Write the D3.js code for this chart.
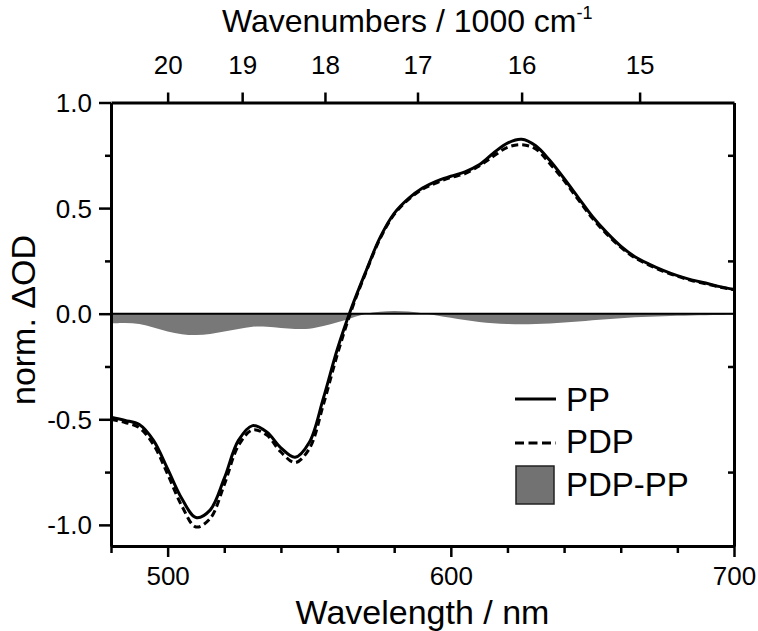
<!DOCTYPE html>
<html><head><meta charset="utf-8">
<script src="https://cdn.jsdelivr.net/npm/d3@7"></script>
<style>
body{margin:0;background:#fff}
text{font-family:"Liberation Sans",Arial,Helvetica,sans-serif;fill:#000}
</style>
</head><body>
<svg id="chart" width="758" height="631"></svg>
<script>
// ---- data ----
const wavelengths = [480,485,490,495,500,505,510,515,520,525,530,535,540,545,550,555,560,565,570,575,580,585,590,595,600,605,610,615,620,625,630,635,640,645,650,655,660,665,670,675,680,685,690,695,700];
const pp  = [-0.49,-0.505,-0.525,-0.60,-0.735,-0.875,-0.965,-0.93,-0.78,-0.60,-0.53,-0.56,-0.635,-0.68,-0.61,-0.40,-0.165,0.03,0.20,0.36,0.475,0.545,0.595,0.628,0.651,0.672,0.705,0.76,0.808,0.826,0.795,0.725,0.64,0.55,0.46,0.385,0.32,0.27,0.235,0.205,0.18,0.16,0.145,0.128,0.115];
const pdp = [-0.50,-0.515,-0.54,-0.62,-0.76,-0.91,-1.01,-0.97,-0.81,-0.625,-0.55,-0.575,-0.655,-0.705,-0.64,-0.43,-0.19,0.02,0.195,0.355,0.47,0.54,0.59,0.62,0.645,0.663,0.70,0.745,0.788,0.80,0.78,0.71,0.63,0.54,0.452,0.378,0.315,0.265,0.23,0.201,0.177,0.157,0.142,0.126,0.113];
const diff = [-0.046,-0.044,-0.049,-0.065,-0.084,-0.097,-0.101,-0.096,-0.084,-0.072,-0.062,-0.062,-0.068,-0.072,-0.071,-0.058,-0.04,-0.02,0.0,0.009,0.013,0.01,0.002,-0.008,-0.019,-0.03,-0.039,-0.045,-0.049,-0.05,-0.049,-0.046,-0.042,-0.037,-0.031,-0.026,-0.021,-0.017,-0.014,-0.012,-0.01,-0.008,-0.007,-0.006,-0.005];
const xMajorTicks = [500,600,700];
const xMinorTicks = [480,520,540,560,580,620,640,660,680];
const yMajorTicks = [-1.0,-0.5,0.0,0.5,1.0];
const yMinorTicks = [-0.75,-0.25,0.25,0.75];
const wavenumberTicks = [20,19,18,17,16,15];
const legendLabels = ["PP","PDP","PDP-PP"];
const xTitle = "Wavelength / nm";
const yTitle = "norm. \u0394OD";
const topTitle = "Wavenumbers / 1000 cm";

// ---- layout ----
const svg = d3.select("#chart");
const L = 111, R = 734, T = 102.5, B = 546;
const x = d3.scaleLinear().domain([480,700]).range([L,R]);
const y = d3.scaleLinear().domain([-1.1,1.0]).range([B,T]);
const tickFont = 26, titleFont = 34, legFont = 33;

const data = wavelengths.map((w,i)=>({w, pp:pp[i], pdp:pdp[i], d:diff[i]}));

// difference fill
const area = d3.area().x(d=>x(d.w)).y0(y(0)).y1(d=>y(d.d)).curve(d3.curveCatmullRom);
svg.append("path").datum(data).attr("d",area).attr("fill","#787878").attr("stroke","none");

// zero line
svg.append("line").attr("x1",L).attr("x2",R).attr("y1",y(0)).attr("y2",y(0))
  .attr("stroke","#000").attr("stroke-width",2);

// curves
const linePP = d3.line().x(d=>x(d.w)).y(d=>y(d.pp)).curve(d3.curveCatmullRom);
const linePDP = d3.line().x(d=>x(d.w)).y(d=>y(d.pdp)).curve(d3.curveCatmullRom);
svg.append("path").datum(data).attr("d",linePDP).attr("fill","none")
  .attr("stroke","#000").attr("stroke-width",3).attr("stroke-dasharray","7,4");
svg.append("path").datum(data).attr("d",linePP).attr("fill","none")
  .attr("stroke","#000").attr("stroke-width",3);

function styleAxis(g){
  g.select(".domain").attr("stroke","#000").attr("stroke-width",3);
  g.selectAll(".tick line").attr("stroke","#000").attr("stroke-width",2.5);
  g.selectAll(".tick text").attr("font-size",tickFont).attr("fill","#000")
    .style("font-family","'Liberation Sans',Arial,sans-serif");
}

// bottom axis
const gB = svg.append("g").attr("transform",`translate(0,${B})`)
  .call(d3.axisBottom(x).tickValues(xMajorTicks).tickSize(11).tickSizeOuter(0).tickFormat(d=>String(d)));
styleAxis(gB);
gB.selectAll(".tick text").attr("y",39).attr("dy",null);
const gBm = svg.append("g").attr("transform",`translate(0,${B})`)
  .call(d3.axisBottom(x).tickValues(xMinorTicks).tickSize(7).tickSizeOuter(0).tickFormat(""));
styleAxis(gBm); gBm.select(".domain").remove();

// top axis (wavenumbers)
const gT = svg.append("g").attr("transform",`translate(0,${T})`)
  .call(d3.axisTop(x).tickValues(wavenumberTicks.map(k=>1e4/k)).tickSize(10).tickSizeOuter(0)
    .tickFormat((d,i)=>String(wavenumberTicks[i])));
styleAxis(gT);
gT.selectAll(".tick text").attr("y",-28.5).attr("dy",null);

// left axis
const gL = svg.append("g").attr("transform",`translate(${L},0)`)
  .call(d3.axisLeft(y).tickValues(yMajorTicks).tickSize(12).tickPadding(7).tickSizeOuter(0).tickFormat(d=>d.toFixed(1)));
styleAxis(gL);
gL.selectAll(".tick text").attr("dy","0.35em");
const gLm = svg.append("g").attr("transform",`translate(${L},0)`)
  .call(d3.axisLeft(y).tickValues(yMinorTicks).tickSize(6).tickSizeOuter(0).tickFormat(""));
styleAxis(gLm); gLm.select(".domain").remove();

// right axis (inward minor ticks)
const gR = svg.append("g").attr("transform",`translate(${R},0)`)
  .call(d3.axisRight(y).tickValues(yMinorTicks).tickSize(-6).tickSizeOuter(0).tickFormat(""));
styleAxis(gR);

// titles
svg.append("text").attr("x",(L+R)/2).attr("y",624).attr("text-anchor","middle")
  .attr("font-size",titleFont).text(xTitle);
svg.append("text").attr("transform",`translate(35,320) rotate(-90)`).attr("text-anchor","middle")
  .attr("font-size",titleFont).text(yTitle);
const tt = svg.append("text").attr("x",222).attr("y",32).attr("font-size",32).text(topTitle);
tt.append("tspan").attr("dy",-13).attr("font-size",18).text("-1");

// legend
const lg = svg.append("g");
lg.append("line").attr("x1",515).attr("x2",556).attr("y1",399).attr("y2",399)
  .attr("stroke","#000").attr("stroke-width",3);
lg.append("line").attr("x1",515).attr("x2",556).attr("y1",443).attr("y2",443)
  .attr("stroke","#000").attr("stroke-width",3).attr("stroke-dasharray","9,4.5");
lg.append("rect").attr("x",516).attr("y",466).attr("width",38).attr("height",38)
  .attr("fill","#727272").attr("stroke","#222").attr("stroke-width",1.5);
[411,453,496].forEach((by,i)=>{
  lg.append("text").attr("x",566).attr("y",by).attr("font-size",legFont).text(legendLabels[i]);
});
</script>
</body></html>
